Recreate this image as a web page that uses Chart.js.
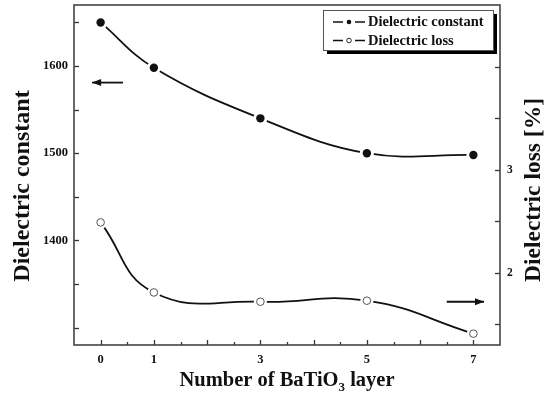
<!DOCTYPE html>
<html><head><meta charset="utf-8">
<script src="https://cdn.jsdelivr.net/npm/chart.js@4/dist/chart.umd.min.js"></script>
<style>html,body{margin:0;padding:0;background:#fff}#wrap{width:547px;height:396px}</style>
</head><body><div id="wrap"><canvas id="c" width="547" height="396"></canvas></div>
<script>
const layers = [0, 1, 3, 5, 7];
const dielectricConstant = [1650, 1598, 1540, 1500, 1498];
const dielectricLoss = [2.49, 1.81, 1.72, 1.73, 1.41];
const xTickLabels = [0, 1, 3, 5, 7];
const leftTickLabels = [1400, 1500, 1600];
const rightTickLabels = [2, 3];
const seriesNames = ['Dielectric constant', 'Dielectric loss'];
const xTitleParts = ['Number of BaTiO', '3', ' layer'];
const leftTitle = 'Dielectric constant';
const rightTitle = 'Dielectric loss [%]';

const SERIF = "'Liberation Serif', 'Times New Roman', serif";
Chart.defaults.font.family = SERIF;
Chart.defaults.font.weight = 'bold';
Chart.defaults.font.size = 12.5;
Chart.defaults.color = '#111';

const near = (v, arr) => arr.some(a => Math.abs(a - v) < 1e-6);

const gapPlugin = {
  id: 'gap',
  afterDatasetDraw(chart, args) {
    const ctx = chart.ctx;
    args.meta.data.forEach(el => {
      const r = el.options.radius;
      ctx.save();
      ctx.fillStyle = '#fff';
      ctx.beginPath(); ctx.arc(el.x, el.y, r + 2.8, 0, Math.PI * 2); ctx.fill();
      ctx.restore();
      el.draw(ctx, chart.chartArea);
    });
  }
};

const decoPlugin = {
  id: 'deco',
  afterDraw(chart) {
    const ctx = chart.ctx, a = chart.chartArea;
    const sx = chart.scales.x, sl = chart.scales.yL, sr = chart.scales.yR;
    ctx.save();
    // inward ticks
    ctx.strokeStyle = '#333'; ctx.lineWidth = 1.3;
    sx.ticks.forEach(t => {
      const v = t.value;
      if (v <= sx.min + 1e-6 || v >= sx.max - 1e-6) return;
      const len = Math.abs(v - Math.round(v)) < 1e-6 ? 5 : 3;
      const p = Math.round(sx.getPixelForValue(v)) + 0.5;
      ctx.beginPath(); ctx.moveTo(p, a.bottom); ctx.lineTo(p, a.bottom - len); ctx.stroke();
    });
    sl.ticks.forEach(t => {
      const v = t.value;
      if (Math.abs(v / 50 - Math.round(v / 50)) > 1e-6) return;
      const p = Math.round(sl.getPixelForValue(v)) + 0.5;
      ctx.beginPath(); ctx.moveTo(a.left, p); ctx.lineTo(a.left + 5, p); ctx.stroke();
    });
    sr.ticks.forEach(t => {
      const v = t.value;
      if (Math.abs(v * 2 - Math.round(v * 2)) > 1e-6) return;
      const p = Math.round(sr.getPixelForValue(v)) + 0.5;
      ctx.beginPath(); ctx.moveTo(a.right, p); ctx.lineTo(a.right - 5, p); ctx.stroke();
    });
    // frame
    ctx.lineWidth = 1.6; ctx.strokeStyle = '#444';
    ctx.strokeRect(a.left, a.top, a.right - a.left, a.bottom - a.top);

    // arrows
    function arrow(x1, x2, y, dir) {
      ctx.strokeStyle = '#111'; ctx.fillStyle = '#111'; ctx.lineWidth = 1.8;
      ctx.beginPath(); ctx.moveTo(x1, y); ctx.lineTo(x2, y); ctx.stroke();
      const tip = dir < 0 ? x1 : x2;
      ctx.beginPath();
      ctx.moveTo(tip, y);
      ctx.lineTo(tip - dir * 9, y - 3.5);
      ctx.lineTo(tip - dir * 9, y + 3.5);
      ctx.closePath(); ctx.fill();
    }
    const ly = sl.getPixelForValue(1581);
    arrow(sx.getPixelForValue(-0.16), sx.getPixelForValue(0.42), ly, -1);
    const ry = sr.getPixelForValue(1.72);
    arrow(sx.getPixelForValue(6.5), sx.getPixelForValue(7.2), ry, 1);

    // legend
    const bx = 323, by = 10, bw = 170, bh = 40;
    ctx.fillStyle = '#000';
    ctx.fillRect(bx + 4, by + 4, bw, bh);
    ctx.fillStyle = '#fff';
    ctx.fillRect(bx, by, bw, bh);
    ctx.strokeStyle = '#555'; ctx.lineWidth = 1;
    ctx.strokeRect(bx + 0.5, by + 0.5, bw, bh);
    ctx.font = 'bold 14.5px ' + SERIF;
    ctx.textBaseline = 'middle'; ctx.textAlign = 'left';
    chart.data.datasets.forEach((ds, i) => {
      const yy = by + 12 + i * 18.5;
      ctx.strokeStyle = '#111'; ctx.lineWidth = 1.6;
      ctx.beginPath(); ctx.moveTo(333, yy); ctx.lineTo(343, yy); ctx.moveTo(355, yy); ctx.lineTo(365, yy); ctx.stroke();
      ctx.beginPath(); ctx.arc(349, yy, 2.3, 0, Math.PI * 2);
      if (i === 0) { ctx.fillStyle = '#111'; ctx.fill(); }
      else { ctx.fillStyle = '#fff'; ctx.fill(); ctx.lineWidth = 0.9; ctx.stroke(); }
      ctx.fillStyle = '#111';
      ctx.fillText(ds.label, 368, yy + 0.5);
    });

    // axis titles
    ctx.fillStyle = '#111';
    const big = 'bold 20.5px ' + SERIF, small = 'bold 13px ' + SERIF;
    ctx.textBaseline = 'alphabetic';
    ctx.font = big; const w1 = ctx.measureText(xTitleParts[0]).width;
    ctx.font = small; const w2 = ctx.measureText(xTitleParts[1]).width;
    ctx.font = big; const w3 = ctx.measureText(xTitleParts[2]).width;
    let tx = 287 - (w1 + w2 + w3) / 2;
    const ty = 386;
    ctx.textAlign = 'left';
    ctx.font = big; ctx.fillText(xTitleParts[0], tx, ty);
    ctx.font = small; ctx.fillText(xTitleParts[1], tx + w1, ty + 5);
    ctx.font = big; ctx.fillText(xTitleParts[2], tx + w1 + w2, ty);

    ctx.textAlign = 'center'; ctx.textBaseline = 'middle';
    ctx.save();
    ctx.translate(23, 186); ctx.rotate(-Math.PI / 2);
    ctx.font = 'bold 24px ' + SERIF;
    ctx.fillText(leftTitle, 0, 0);
    ctx.restore();
    ctx.save();
    ctx.translate(534, 190); ctx.rotate(-Math.PI / 2);
    ctx.font = 'bold 23.5px ' + SERIF;
    ctx.fillText(rightTitle, 0, 0);
    ctx.restore();
    ctx.restore();
  }
};

new Chart(document.getElementById('c'), {
  type: 'line',
  data: {
    datasets: [
      {
        label: seriesNames[0],
        yAxisID: 'yL',
        data: layers.map((x, i) => ({ x, y: dielectricConstant[i] })),
        borderColor: '#111', borderWidth: 1.8, tension: 0.4,
        pointRadius: 4.2, pointBackgroundColor: '#111', pointBorderColor: '#111', pointBorderWidth: 0
      },
      {
        label: seriesNames[1],
        yAxisID: 'yR',
        data: layers.map((x, i) => ({ x, y: dielectricLoss[i] })),
        borderColor: '#111', borderWidth: 1.8, tension: 0.45,
        pointRadius: 3.8, pointBackgroundColor: '#fff', pointBorderColor: '#555', pointBorderWidth: 1
      }
    ]
  },
  options: {
    responsive: false, animation: false, devicePixelRatio: 1,
    layout: { padding: { top: 4, left: 0, right: 0, bottom: 0 } },
    plugins: { legend: { display: false }, tooltip: { enabled: false } },
    scales: {
      x: {
        type: 'linear', min: -0.5, max: 7.5,
        grid: { display: false, drawTicks: false }, border: { display: false },
        ticks: { stepSize: 0.5, autoSkip: false, maxRotation: 0, padding: 7,
          callback: v => near(v, xTickLabels) ? String(v) : '' },
        afterFit: s => { s.height = 51; s.paddingLeft = 0; s.paddingRight = 0; }
      },
      yL: {
        type: 'linear', position: 'left', min: 1280, max: 1670,
        grid: { display: false, drawTicks: false }, border: { display: false },
        ticks: { stepSize: 50, autoSkip: false, padding: 6,
          callback: v => near(v, leftTickLabels) ? String(v) : '' },
        afterFit: s => { s.width = 74; s.paddingTop = 0; s.paddingBottom = 0; }
      },
      yR: {
        type: 'linear', position: 'right', min: 1.3, max: 4.6,
        grid: { display: false, drawTicks: false }, border: { display: false },
        ticks: { stepSize: 0.5, autoSkip: false, padding: 7, font: { size: 11.5 },
          callback: v => near(v, rightTickLabels) ? String(v) : '' },
        afterFit: s => { s.width = 47; s.paddingTop = 0; s.paddingBottom = 0; }
      }
    }
  },
  plugins: [gapPlugin, decoPlugin]
});
</script>
</body></html>
